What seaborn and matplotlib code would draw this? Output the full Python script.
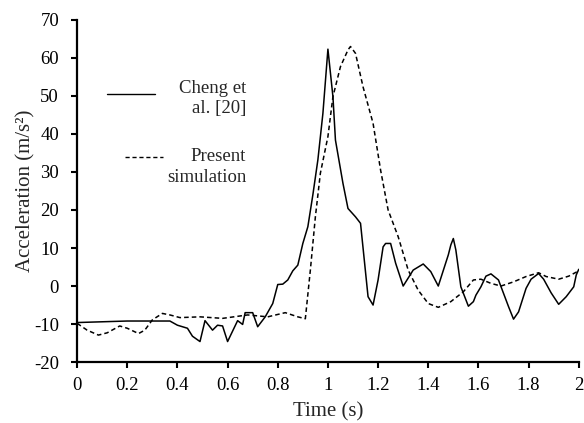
#!/usr/bin/env python3

# Import libraries
import pandas as pd
import matplotlib.pyplot as plt
import seaborn as sns

# Cheng et al. [20] (solid line)
cheng_t = [0.00, 0.10, 0.20, 0.30, 0.37, 0.40, 0.44, 0.46, 0.49, 0.51, 0.54, 0.56, 0.58, 0.60,
           0.64, 0.66, 0.67, 0.70, 0.72, 0.75, 0.78, 0.80, 0.82, 0.84, 0.86, 0.88, 0.90, 0.92,
           0.94, 0.96, 0.98, 1.00, 1.02, 1.03, 1.06, 1.08, 1.11, 1.13, 1.16, 1.18, 1.20, 1.22,
           1.23, 1.25, 1.27, 1.30, 1.34, 1.38, 1.41, 1.44, 1.48, 1.49, 1.50, 1.51, 1.53, 1.56,
           1.58, 1.59, 1.61, 1.63, 1.65, 1.68, 1.70, 1.72, 1.74, 1.76, 1.79, 1.81, 1.84, 1.86,
           1.89, 1.92, 1.95, 1.98, 1.99, 2.00]
cheng_acc = [-9.6, -9.4, -9.2, -9.2, -9.2, -10.3, -11.1, -13.2, -14.6, -9.1, -11.6, -10.3, -10.5, -14.6,
             -9.1, -10.1, -7.0, -7.0, -10.7, -8.1, -4.6, 0.4, 0.5, 1.6, 4.0, 5.5, 11.2, 15.6,
             24.0, 33.2, 45.4, 62.3, 49.8, 38.4, 27.0, 20.4, 18.2, 16.5, -2.8, -5.0, 1.6, 10.3,
             11.2, 11.2, 6.0, 0.0, 4.2, 5.8, 3.8, 0.0, 8.2, 10.8, 12.5, 9.5, -0.2, -5.3,
             -4.1, -2.4, -0.2, 2.6, 3.2, 1.6, -1.9, -5.4, -8.7, -6.8, -0.6, 1.8, 3.3, 1.8,
             -1.8, -4.8, -2.8, -0.2, 2.9, 4.4]

# Present simulation (dashed line)
sim_t = [0.00, 0.04, 0.085, 0.12, 0.17, 0.20, 0.245, 0.27, 0.30, 0.34, 0.37, 0.41, 0.49, 0.58,
         0.68, 0.76, 0.83, 0.88, 0.91, 0.93, 0.95, 0.97, 1.00, 1.02, 1.05, 1.08, 1.09, 1.11,
         1.14, 1.18, 1.21, 1.24, 1.28, 1.32, 1.36, 1.40, 1.44, 1.49, 1.54, 1.58, 1.61, 1.65,
         1.69, 1.74, 1.79, 1.84, 1.87, 1.92, 1.96, 2.00]
sim_acc = [-9.8, -11.6, -12.9, -12.3, -10.5, -11.1, -12.5, -11.6, -8.9, -7.2, -7.6, -8.3, -8.1, -8.5,
           -7.6, -8.1, -7.0, -8.1, -8.6, 4.2, 18.2, 29.7, 39.3, 49.8, 57.7, 62.1, 63.0, 61.2,
           52.4, 42.8, 30.5, 20.0, 13.0, 4.2, -1.1, -4.6, -5.6, -4.1, -1.5, 1.6, 1.8, 0.7,
           0.0, 1.1, 2.5, 3.5, 2.5, 1.8, 2.6, 4.0]

x_ticks = [0, 0.2, 0.4, 0.6, 0.8, 1, 1.2, 1.4, 1.6, 1.8, 2]
x_tick_labels = ["0", "0.2", "0.4", "0.6", "0.8", "1", "1.2", "1.4", "1.6", "1.8", "2"]
y_ticks = [-20, -10, 0, 10, 20, 30, 40, 50, 60, 70]


def plot():
    sns.set_style("ticks")
    plt.rcParams["font.family"] = ["Liberation Serif", "DejaVu Serif"]
    plt.rcParams["axes.unicode_minus"] = False

    fig = plt.figure(figsize=(5.84, 4.23), dpi=100)
    ax = fig.add_axes([0.132, 0.144, 0.859, 0.809])

    cheng = pd.DataFrame({"t": cheng_t, "acc": cheng_acc})
    sim = pd.DataFrame({"t": sim_t, "acc": sim_acc})
    sns.lineplot(data=cheng, x="t", y="acc", ax=ax, color="black", linewidth=1.1)
    sns.lineplot(data=sim, x="t", y="acc", ax=ax, color="black", linewidth=1.1,
                 linestyle=(0, (3, 2)))

    # Axes
    ax.set_xlim(0, 2)
    ax.set_ylim(-20, 70)
    ax.set_xticks(x_ticks)
    ax.set_xticklabels(x_tick_labels)
    ax.set_yticks(y_ticks)
    ax.tick_params(axis="both", labelsize=13.5, length=4, width=1.5, color="black",
                   labelcolor="black", direction="out")
    ax.tick_params(axis="y", pad=9)
    ax.tick_params(axis="x", pad=7)
    for side in ["left", "bottom"]:
        ax.spines[side].set_linewidth(1.6)
        ax.spines[side].set_color("black")
    sns.despine(ax=ax)
    ax.set_xlabel("Time (s)", fontsize=15, labelpad=6)
    ax.set_ylabel("Acceleration (m/s²)", fontsize=15, labelpad=-1)

    # Legend, drawn by hand like the Excel one
    ax.plot([0.060, 0.155], [0.784, 0.784], transform=ax.transAxes, color="black", linewidth=1.0)
    ax.plot([0.096, 0.171], [0.599, 0.599], transform=ax.transAxes, color="black", linewidth=1.0,
            linestyle=(0, (3, 2)))
    ax.text(0.337, 0.770, "Cheng et\nal. [20]", transform=ax.transAxes, ha="right", va="center",
            multialignment="right", fontsize=13.5, linespacing=1.25)
    ax.text(0.337, 0.570, "Present\nsimulation", transform=ax.transAxes, ha="right", va="center",
            multialignment="right", fontsize=13.5, linespacing=1.25)

    fig.savefig("out.png", dpi=100)


def main():
    plot()


if __name__ == '__main__':
    main()
